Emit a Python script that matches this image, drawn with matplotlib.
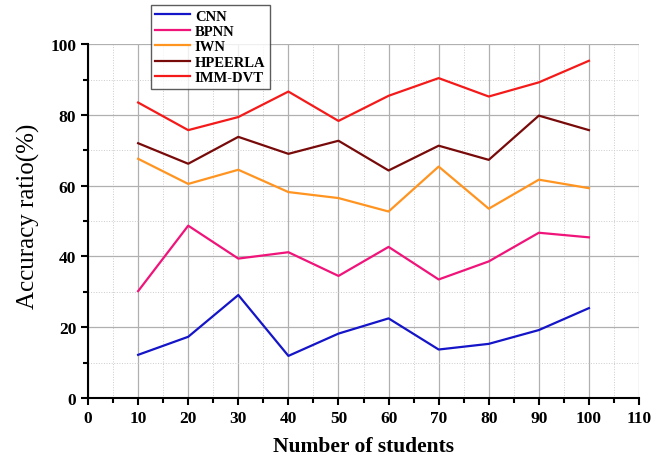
import matplotlib
matplotlib.use("Agg")
import matplotlib.pyplot as plt
from matplotlib.ticker import MultipleLocator

students = [10, 20, 30, 40, 50, 60, 70, 80, 90, 100]
cnn = [12.2, 17.3, 29.1, 11.9, 18.2, 22.5, 13.7, 15.3, 19.2, 25.4]
bpnn = [30.2, 48.7, 39.4, 41.2, 34.5, 42.7, 33.5, 38.6, 46.7, 45.4]
iwn = [67.6, 60.5, 64.5, 58.2, 56.5, 52.7, 65.4, 53.5, 61.7, 59.3]
hpeerla = [72.0, 66.2, 73.8, 69.0, 72.7, 64.3, 71.3, 67.3, 79.8, 75.7]
imm_dvt = [83.5, 75.7, 79.4, 86.6, 78.3, 85.4, 90.4, 85.2, 89.2, 95.3]

series = [
    ("CNN", cnn, "#1414c8"),
    ("BPNN", bpnn, "#f0147a"),
    ("IWN", iwn, "#ff9420"),
    ("HPEERLA", hpeerla, "#780a0a"),
    ("IMM-DVT", imm_dvt, "#f51a1a"),
]

plt.rcParams['font.family'] = ['Liberation Serif', 'DejaVu Serif']
plt.rcParams['font.weight'] = 'bold'

fig = plt.figure(figsize=(6.53, 4.56), dpi=100)
ax = fig.add_axes([0.1348, 0.125, 0.8438, 0.776])

for name, vals, col in series:
    ax.plot(students, vals, color=col, linewidth=1.6, label=name)

ax.set_xlim(0, 110)
ax.set_ylim(0, 100)
ax.xaxis.set_major_locator(MultipleLocator(10))
ax.xaxis.set_minor_locator(MultipleLocator(5))
ax.yaxis.set_major_locator(MultipleLocator(20))
ax.yaxis.set_minor_locator(MultipleLocator(10))

ax.grid(which='major', color='#b0b0b0', linewidth=0.9, linestyle='-')
ax.grid(which='minor', color='#cccccc', linewidth=0.7, linestyle=':')
ax.set_axisbelow(True)

for s in ['top', 'right']:
    ax.spines[s].set_visible(False)
for s in ['left', 'bottom']:
    ax.spines[s].set_linewidth(1.5)

ax.tick_params(which='major', direction='out', length=5, width=1.5, labelsize=12.5)
ax.tick_params(which='minor', direction='out', length=3.5, width=1.5)
for lab in ax.get_xticklabels() + ax.get_yticklabels():
    lab.set_fontweight('bold')

ax.set_xlabel("Number of students", fontsize=15.5, fontweight='bold', labelpad=7)
ax.set_ylabel("Accuracy ratio(%)", fontsize=18, fontweight='normal')
ax.yaxis.set_label_coords(-0.087, 0.515)

leg = fig.legend(loc='upper left', bbox_to_anchor=(151 / 653, 1 - 6 / 456),
                 fontsize=10.5, frameon=True, fancybox=False, handlelength=2.4,
                 borderpad=0.3, labelspacing=0.15, handletextpad=0.3,
                 borderaxespad=0)
leg.get_frame().set_edgecolor('#333333')
leg.get_frame().set_linewidth(1.0)
for t in leg.get_texts():
    t.set_fontweight('bold')

fig.savefig("out.png", dpi=100)
